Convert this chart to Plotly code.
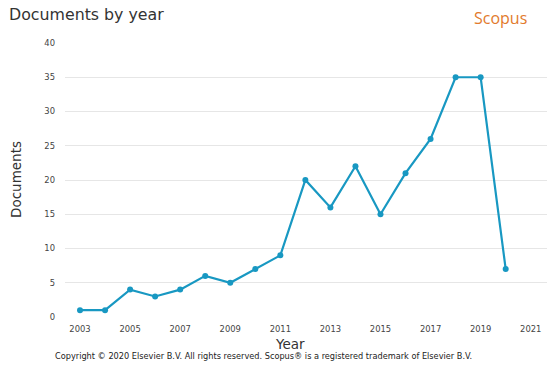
import plotly.graph_objects as go

years = [2003, 2004, 2005, 2006, 2007, 2008, 2009, 2010, 2011, 2012,
         2013, 2014, 2015, 2016, 2017, 2018, 2019, 2020]
documents = [1, 1, 4, 3, 4, 6, 5, 7, 9, 20, 16, 22, 15, 21, 26, 35, 35, 7]
x_ticks = [2003, 2005, 2007, 2009, 2011, 2013, 2015, 2017, 2019, 2021]
y_ticks = [0, 5, 10, 15, 20, 25, 30, 35, 40]

fig = go.Figure()
fig.add_trace(go.Scatter(
    x=years, y=documents, mode="lines+markers",
    line=dict(color="#1898c2", width=2.2),
    marker=dict(color="#1898c2", size=6),
    showlegend=False, hoverinfo="x+y",
))

font = "DejaVu Sans, sans-serif"
fig.update_layout(
    width=550, height=370,
    margin=dict(l=65, r=3, t=43, b=53),
    paper_bgcolor="white", plot_bgcolor="white",
    font=dict(family=font, color="#444"),
    xaxis=dict(range=[2002.4, 2021.65], tickvals=x_ticks,
               ticktext=[str(v) for v in x_ticks],
               showgrid=False, zeroline=False, showline=False,
               tickfont=dict(size=8.4, color="#444"), ticks="", ticklen=0,
               ticklabelstandoff=6),
    yaxis=dict(range=[0, 40], tickvals=y_ticks, showgrid=True,
               gridcolor="#e6e6e6", gridwidth=1, zeroline=False, showline=False,
               tickfont=dict(size=8.4, color="#444"), ticks="", ticklen=0,
               ticklabelstandoff=9),
    annotations=[
        dict(text="Documents by year", x=7, y=15, showarrow=False,
             font=dict(size=15.8, color="#333", family=font),
             xanchor="left", yanchor="middle"),
        dict(text="Scopus", x=500, y=18, showarrow=False,
             font=dict(size=16, color="#e27a2c", family="Open Sans, sans-serif"),
             xanchor="center", yanchor="middle"),
        dict(text="Year", x=290, y=344, showarrow=False,
             font=dict(size=13.5, color="#333", family=font),
             xanchor="center", yanchor="middle"),
        dict(text="Documents", x=16, y=180, showarrow=False, textangle=-90,
             font=dict(size=13.5, color="#333", family=font),
             xanchor="center", yanchor="middle"),
        dict(text="Copyright © 2020 Elsevier B.V. All rights reserved. Scopus® is a registered trademark of Elsevier B.V.",
             x=263, y=356, showarrow=False,
             font=dict(size=8.2, color="#222", family=font),
             xanchor="center", yanchor="middle"),
    ],
)

# convert pixel-positioned annotations into paper coordinates
W, H = 550, 370
l, r, t, b = 65, 3, 43, 53
pw, ph = W - l - r, H - t - b
anns = []
for a in fig.layout.annotations:
    px, py = a.x, a.y
    a.x = (px - l) / pw
    a.y = 1 - (py - t) / ph
    a.xref = "paper"
    a.yref = "paper"
    anns.append(a)
fig.layout.annotations = anns

fig.write_html("out.html", config={"displayModeBar": False},
               post_script="document.body.style.margin='0';document.body.style.overflow='hidden';")
